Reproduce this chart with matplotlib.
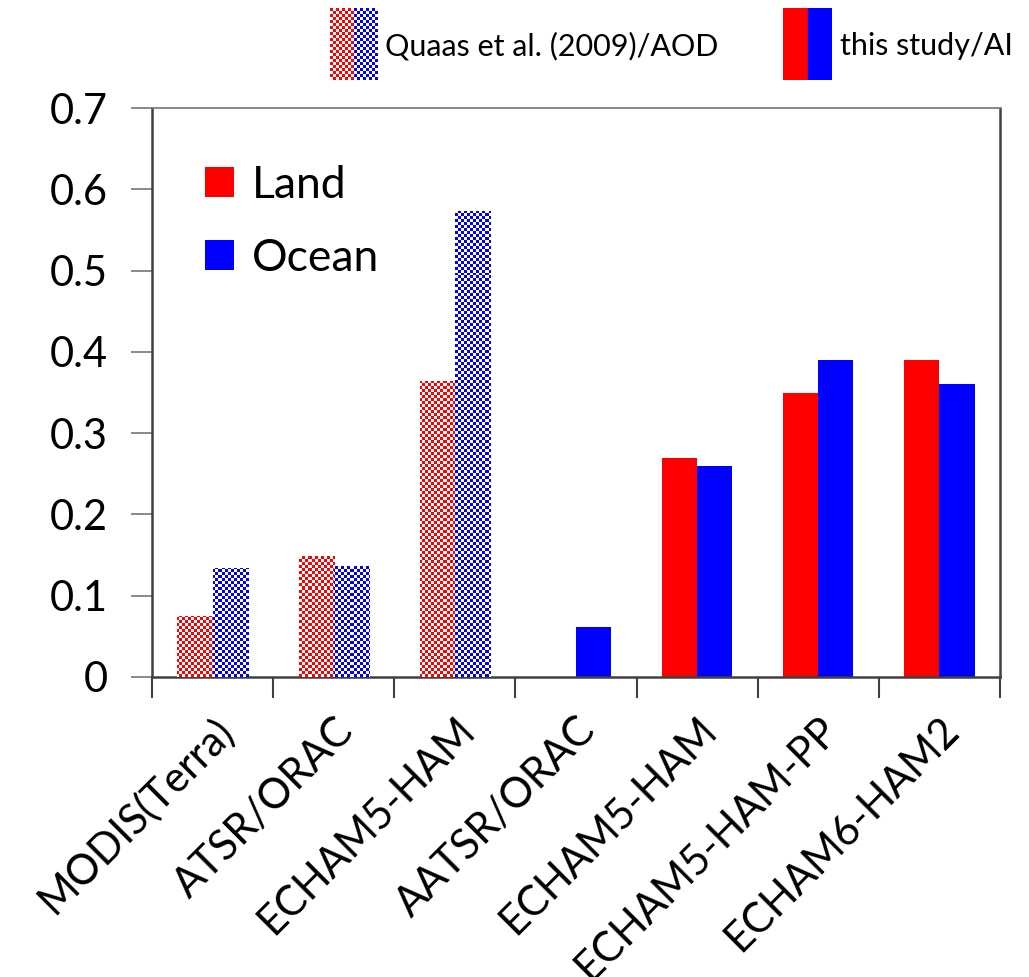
import numpy as np
import matplotlib
matplotlib.use("Agg")
import matplotlib.pyplot as plt
from matplotlib.patches import Patch, Rectangle

plt.rcParams['font.family'] = ['Lato', 'DejaVu Sans']

categories = ["MODIS(Terra)", "ATSR/ORAC", "ECHAM5-HAM", "AATSR/ORAC",
              "ECHAM5-HAM", "ECHAM5-HAM-PP", "ECHAM6-HAM2"]
land = [0.075, 0.149, 0.364, 0.0, 0.270, 0.350, 0.390]
ocean = [0.134, 0.136, 0.573, 0.061, 0.260, 0.390, 0.360]
# first three from Quaas et al. (2009)/AOD (checkered), rest this study/AI (solid)
checkered = [True, True, True, False, False, False, False]
yticks = [0, 0.1, 0.2, 0.3, 0.4, 0.5, 0.6, 0.7]

RED = "#ff0000"
BLUE = "#0000ff"

W, H = 1029, 977
fig = plt.figure(figsize=(W / 100, H / 100), dpi=100)
ax = fig.add_axes([152 / W, 1 - 677 / H, (1000 - 152) / W, (677 - 108) / H])

x = np.arange(len(categories))
bw = 0.29
land_bars = ax.bar(x - bw / 2, land, bw, color=RED, linewidth=0)
ocean_bars = ax.bar(x + bw / 2, ocean, bw, color=BLUE, linewidth=0)


def checker_rgba(color, ncols, nrows):
    rgb = np.array(matplotlib.colors.to_rgb(color))
    ii, jj = np.indices((nrows, ncols))
    mask = ((ii + jj) % 2 == 0)
    img = np.ones((nrows, ncols, 3))
    img[mask] = rgb
    return img


def fill_checker(axx, patch, color, cell_px=3):
    bb = axx.get_window_extent()
    ncols = int(round(bb.width / cell_px))
    nrows = int(round(bb.height / cell_px))
    img = checker_rgba(color, ncols, nrows)
    im = axx.imshow(img, extent=[0, 1, 0, 1], transform=axx.transAxes,
                    interpolation="nearest", aspect="auto", zorder=3)
    im.set_clip_path(patch)


for i, chk in enumerate(checkered):
    if chk:
        fill_checker(ax, land_bars[i], RED)
        fill_checker(ax, ocean_bars[i], BLUE)

ax.set_xlim(-0.5, len(categories) - 0.5)
ax.set_ylim(0, 0.7)
ax.set_yticks(yticks)
ax.set_yticklabels(["0" if v == 0 else f"{v:.1f}" for v in yticks], fontsize=30)
ax.tick_params(axis="y", length=15, width=1.3, color="#808080", pad=17, direction="out")

ax.set_xticks(x)
ax.set_xticklabels(categories, rotation=45, ha="right", va="top",
                   rotation_mode="anchor", fontsize=30)
ax.tick_params(axis="x", which="major", length=0, pad=24)
ax.set_xticks(np.arange(-0.5, len(categories), 1.0), minor=True)
ax.tick_params(axis="x", which="minor", length=15, width=1.5, color="#404040", direction="out")

for s in ["left", "bottom", "right"]:
    ax.spines[s].set_color("#404040")
    ax.spines[s].set_linewidth(1.8)
ax.spines["top"].set_color("#808080")
ax.spines["top"].set_linewidth(1.3)

handles = [Patch(facecolor=RED, linewidth=0), Patch(facecolor=BLUE, linewidth=0)]
ax.legend(handles, ["Land", "Ocean"], loc="upper left",
          bbox_to_anchor=(0.015, 0.97), frameon=False, fontsize=32,
          handlelength=0.66, handleheight=0.66, handletextpad=0.4,
          labelspacing=0.72)

# top legend (figure level)
def key_axes(x0, x1, y0, y1):
    a = fig.add_axes([x0 / W, 1 - y1 / H, (x1 - x0) / W, (y1 - y0) / H])
    a.set_xlim(0, 1)
    a.set_ylim(0, 1)
    a.axis("off")
    return a

k1 = key_axes(330, 378, 8, 80)
r1 = Rectangle((0, 0), 0.5, 1, color=RED, transform=k1.transAxes)
b1 = Rectangle((0.5, 0), 0.5, 1, color=BLUE, transform=k1.transAxes)
k1.add_patch(r1)
k1.add_patch(b1)
fill_checker(k1, r1, RED)
fill_checker(k1, b1, BLUE)
fig.text(385 / W, 1 - 46 / H, "Quaas et al. (2009)/AOD", fontsize=22,
         ha="left", va="center")

k2 = key_axes(783, 832, 8, 80)
k2.add_patch(Rectangle((0, 0), 0.5, 1, color=RED, transform=k2.transAxes))
k2.add_patch(Rectangle((0.5, 0), 0.5, 1, color=BLUE, transform=k2.transAxes))
fig.text(840 / W, 1 - 46 / H, "this study/AI", fontsize=22,
         ha="left", va="center")

fig.savefig("out.png", dpi=100)
